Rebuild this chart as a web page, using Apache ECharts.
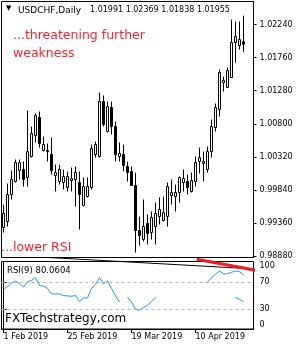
<!DOCTYPE html>
<html><head><meta charset="utf-8">
<script src="https://cdn.jsdelivr.net/npm/echarts@6/dist/echarts.min.js"></script>
<style>html,body{margin:0;padding:0;background:#fff}#c{width:300px;height:350px}</style>
</head><body><div id="c"></div>
<script>
const dates = ['1 Feb 2019','4 Feb 2019','5 Feb 2019','6 Feb 2019','7 Feb 2019','8 Feb 2019','11 Feb 2019','12 Feb 2019','13 Feb 2019','14 Feb 2019','15 Feb 2019','18 Feb 2019','19 Feb 2019','20 Feb 2019','21 Feb 2019','22 Feb 2019','25 Feb 2019','26 Feb 2019','27 Feb 2019','28 Feb 2019',
'1 Mar 2019','4 Mar 2019','5 Mar 2019','6 Mar 2019','7 Mar 2019','8 Mar 2019','11 Mar 2019','12 Mar 2019','13 Mar 2019','14 Mar 2019','15 Mar 2019','18 Mar 2019','19 Mar 2019','20 Mar 2019','21 Mar 2019','22 Mar 2019','25 Mar 2019','26 Mar 2019','27 Mar 2019','28 Mar 2019','29 Mar 2019',
'1 Apr 2019','2 Apr 2019','3 Apr 2019','4 Apr 2019','5 Apr 2019','8 Apr 2019','9 Apr 2019','10 Apr 2019','11 Apr 2019','12 Apr 2019','15 Apr 2019','16 Apr 2019','17 Apr 2019','18 Apr 2019','19 Apr 2019','22 Apr 2019','23 Apr 2019','24 Apr 2019','25 Apr 2019','26 Apr 2019'];

const opens = [0.99297,0.99384,0.99775,0.99964,1.00123,1.00138,1.00022,1.00326,1.00631,1.00892,
1.00413,1.00413,1.00355,1.00051,0.99964,0.99949,0.99877,0.99978,0.99993,0.99949,
0.99616,0.99746,0.99877,1.00355,1.00326,1.01124,1.00689,1.01037,1.00761,1.00326,
1.00355,1.00181,1.00109,0.99906,0.99253,0.99123,0.99355,0.99224,0.99311,0.99456,
0.99398,0.99456,0.99761,0.99746,0.99804,0.99949,0.99964,0.99819,0.99964,1.00254,
1.00225,1.00138,1.00398,1.00747,1.01008,1.01399,1.01327,1.01472,1.01979,1.01936,1.01991];

const closes = [0.99500,0.99775,0.99993,1.00239,1.00239,0.99993,1.00398,1.00660,1.00921,1.00515,
1.00500,1.00398,1.00123,1.00094,1.00138,1.00036,1.00036,1.00007,1.00094,0.99775,
0.99891,0.99891,1.00442,1.00500,1.01124,1.00790,1.01051,1.00761,1.00355,1.00370,
1.00196,1.00094,0.99906,0.99253,0.99181,0.99311,0.99210,0.99442,0.99500,0.99558,
0.99514,0.99891,0.99804,0.99804,1.00022,1.00007,0.99877,0.99978,1.00239,1.00312,
1.00254,1.00398,1.00761,1.01037,1.01544,1.01428,1.01573,1.01979,1.02066,1.02022,1.01955];

const lows = [0.99224,0.99311,0.99703,0.99949,0.99993,0.99891,0.99891,1.00312,1.00529,1.00456,
1.00398,1.00254,1.00065,0.99819,0.99920,0.99848,0.99819,0.99819,0.99601,0.99268,
0.99601,0.99732,0.99848,1.00312,1.00312,1.00761,1.00674,1.00645,1.00254,1.00254,
1.00109,0.99964,0.99906,0.98934,0.99036,0.99094,0.99050,0.99123,0.99050,0.99340,
0.99384,0.99311,0.99630,0.99529,0.99659,0.99819,0.99775,0.99804,0.99891,1.00080,
0.99964,1.00094,1.00312,1.00689,1.00906,1.01269,1.01327,1.01472,1.01689,1.01878,1.01838];

const highs = [0.99630,0.99935,1.00123,1.00283,1.00283,1.00254,1.00993,1.00761,1.00950,1.00979,
1.00616,1.00515,1.00602,1.00210,1.00210,1.00138,1.00109,1.00167,1.00181,1.00109,
1.00022,1.00022,1.00500,1.00543,1.01254,1.01211,1.01124,1.01124,1.00834,1.00529,
1.00500,1.00254,1.00181,1.00094,0.99456,0.99703,0.99485,0.99529,0.99659,0.99732,
0.99746,0.99949,0.99993,0.99920,1.00036,1.00138,1.00065,1.00094,1.00326,1.00456,
1.00398,1.00471,1.00863,1.01095,1.01588,1.01486,1.01617,1.02312,1.02284,1.02284,1.02369];

const rsi = [59,63,68,71,67,62,70,72,76,64.5,
63.5,60,52,52,52,49.5,49,48.5,49.5,40.5,
46,46,60,66,76,67,71,60,49,40,
null,47,40,29,28,32,35,41,46,null,
null,null,null,null,null,null,null,null,null,null,
null,69.5,76,81,86,81.5,82,84,86,85,80.0604];

const rsiStray = [null,null,null,null,null,null,null,null,null,null,
null,null,null,null,null,null,null,null,null,null,
null,null,null,null,null,null,null,null,null,null,
null,null,null,null,null,null,null,null,null,null,
null,null,null,null,null,null,null,null,null,null,
null,null,null,null,null,null,null,null,47,44,40.5];

const priceTicks = [0.98880,0.99360,0.99840,1.00320,1.00800,1.01280,1.01760,1.02240];
const rsiTicks = [0,30,70,100];
const rsiLevels = [70,30];
const trendBlack = [[11,106],[62.9,88.9]];
const trendRed = [[48.3,103.3],[65,84.9]];

const last = dates.length - 1;
const candles = dates.map((d,i)=>[opens[i],closes[i],lows[i],highs[i]]);
const ohlcText = [opens[last],highs[last],lows[last],closes[last]].map(v=>v.toFixed(5)).join(' ');

const FONT = 'DejaVu Sans';
const chart = echarts.init(document.getElementById('c'), null, {renderer:'canvas'});
chart.setOption({
  animation: false,
  backgroundColor: '#fff',
  title: [
    {text: '\u25BC', left: 6, top: 5, padding: 0, textStyle: {fontFamily: FONT, fontSize: 7, fontWeight: 'normal', color: '#000'}},
    {text: 'USDCHF,Daily', left: 18, top: 6, padding: 0, textStyle: {fontFamily: FONT, fontSize: 9, fontWeight: 'normal', color: '#000'}},
    {text: ohlcText, left: 90, top: 6, padding: 0, textStyle: {fontFamily: FONT, fontSize: 8, fontWeight: 'normal', color: '#000'}},
    {text: 'RSI(9) ' + rsi[last].toFixed(4), left: 7, top: 266, padding: 0, textStyle: {fontFamily: FONT, fontSize: 8.5, fontWeight: 'normal', color: '#000'}}
  ],
  grid: [
    {left: 1.5, width: 252, top: 1.5, height: 256, show: true, borderColor: '#000', borderWidth: 1, backgroundColor: 'transparent'},
    {left: 1.5, width: 252, top: 261.5, height: 67.5, show: true, borderColor: '#000', borderWidth: 1, backgroundColor: 'transparent'}
  ],
  xAxis: [
    {type: 'category', gridIndex: 0, data: dates, max: 62, show: false},
    {type: 'category', gridIndex: 1, data: dates, max: 62,
     axisLine: {show: true, lineStyle: {color: '#000', width: 1}},
     axisTick: {show: true, alignWithLabel: true, interval: 15, length: 4, lineStyle: {color: '#000'}},
     axisLabel: {interval: 15, align: 'left', margin: 4, fontFamily: FONT, fontSize: 8, color: '#000'},
     splitLine: {show: false}},
    {type: 'value', gridIndex: 1, min: -0.5, max: 62.5, show: false}
  ],
  yAxis: [
    {type: 'value', gridIndex: 0, position: 'right', min: 0.98862, max: 1.02574,
     axisLine: {show: true, lineStyle: {color: '#000'}},
     axisTick: {show: true, length: 3, customValues: priceTicks, lineStyle: {color: '#000'}},
     axisLabel: {customValues: priceTicks, margin: 6, fontFamily: FONT, fontSize: 8, color: '#000', formatter: v => v.toFixed(5)},
     splitLine: {show: false}},
    {type: 'value', gridIndex: 1, position: 'right', min: 0, max: 100,
     axisLine: {show: true, lineStyle: {color: '#000'}},
     axisTick: {show: true, length: 3, customValues: rsiTicks, lineStyle: {color: '#000'}},
     axisLabel: {customValues: rsiTicks, margin: 6, fontFamily: FONT, fontSize: 8, color: '#000',
       verticalAlignMaxLabel: 'top', verticalAlignMinLabel: 'bottom'},
     splitLine: {show: false}}
  ],
  graphic: [
    {type: 'text', left: 13, top: 27, silent: true,
     style: {text: '...threatening further\nweakness', font: '12.5px "DejaVu Sans"', fill: '#f5222d', lineHeight: 18}},
    {type: 'text', left: 1, top: 240, silent: true,
     style: {text: '...lower RSI', font: '12.5px "DejaVu Sans"', fill: '#f5222d', lineHeight: 16}},
    {type: 'text', left: 5, top: 311, silent: true,
     style: {text: 'FXTechstrategy,com', font: '12px "DejaVu Sans"', fill: '#000', lineHeight: 15}}
  ],
  series: [
    {type: 'candlestick', xAxisIndex: 0, yAxisIndex: 0, data: candles, barWidth: 2, clip: false,
     itemStyle: {color: '#fff', color0: '#000', borderColor: '#000', borderColor0: '#000', borderWidth: 1},
     markLine: {silent: true, symbol: 'none', animation: false,
       data: [{yAxis: closes[last]}],
       lineStyle: {opacity: 0},
       label: {show: true, position: 'end', distance: 3, formatter: () => closes[last].toFixed(5),
         backgroundColor: '#000', color: '#fff', fontFamily: FONT, fontSize: 8, padding: [2,4,1,4]}}},
    {type: 'line', xAxisIndex: 1, yAxisIndex: 1, data: rsi, symbol: 'none', showSymbol: false, connectNulls: false,
     lineStyle: {color: '#1e90ff', width: 1},
     markLine: {silent: true, symbol: 'none', animation: false,
       data: rsiLevels.map(v => ({yAxis: v})),
       lineStyle: {color: '#b4b4b4', type: [3,3], width: 1},
       label: {show: false}}},
    {type: 'line', xAxisIndex: 1, yAxisIndex: 1, data: rsiStray, symbol: 'none', showSymbol: false,
     lineStyle: {color: '#1e90ff', width: 1}},
    {type: 'line', xAxisIndex: 2, yAxisIndex: 1, data: trendBlack, symbol: 'none', showSymbol: false, clip: false,
     lineStyle: {color: '#000', width: 1}},
    {type: 'line', xAxisIndex: 2, yAxisIndex: 1, data: trendRed, symbol: 'none', showSymbol: false, clip: false,
     lineStyle: {color: '#ee1c25', width: 3}}
  ]
});
</script>
</body></html>
